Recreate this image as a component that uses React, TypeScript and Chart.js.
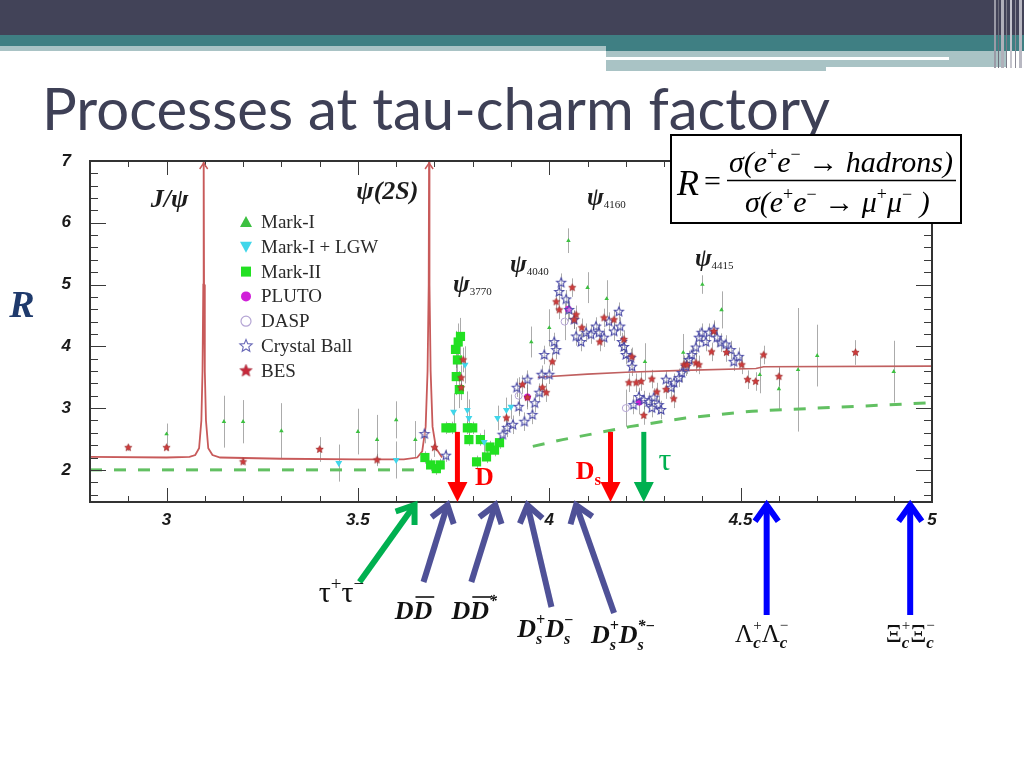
import React, { useEffect, useRef } from 'react';
import { Chart, registerables } from 'chart.js';

Chart.register(...registerables);

// ---------------- data ----------------
const X_TICKS = [3, 3.5, 4, 4.5, 5];
const Y_TICKS = [2, 3, 4, 5, 6, 7];
const X_MIN = 2.8;
const X_MAX = 5.0;
const Y_MIN = 1.48;
const Y_MAX = 7;

const SERIES_NAMES = ['Mark-I', 'Mark-I + LGW', 'Mark-II', 'PLUTO', 'DASP', 'Crystal Ball', 'BES'];

// [E (GeV), R, error]
const MARK_I: number[][] = [
  [3.0, 2.58, 0.17], [3.15, 2.78, 0.42], [3.2, 2.78, 0.35], [3.3, 2.63, 0.45],
  [3.5, 2.62, 0.37], [3.55, 2.49, 0.4], [3.6, 2.81, 0.3], [3.65, 2.49, 0.3],
  [3.953, 4.07, 0.25], [4.0, 4.3, 0.3], [4.05, 5.71, 0.2], [4.1, 4.95, 0.25],
  [4.15, 4.77, 0.3], [4.25, 3.75, 0.3], [4.35, 3.9, 0.3], [4.4, 5.0, 0.15],
  [4.45, 4.59, 0.3], [4.55, 3.54, 0.3], [4.6, 3.31, 0.35], [4.65, 3.62, 1.0],
  [4.7, 3.85, 0.5], [4.9, 3.59, 0.5],
];
const MARK_I_LGW: number[][] = [
  [3.45, 2.11, 0.3], [3.6, 2.16, 0.3], [3.75, 2.94, 0.3], [3.78, 3.7, 0.3],
  [3.786, 2.97, 0.3], [3.79, 2.84, 0.3], [3.83, 2.45, 0.2], [3.865, 2.84, 0.2],
  [3.888, 2.97, 0.2], [3.9, 3.02, 0.2],
];
const MARK_II: number[][] = [
  [3.675, 2.2, 0.1], [3.69, 2.08, 0.1], [3.705, 2.02, 0.1], [3.715, 2.08, 0.1],
  [3.73, 2.68, 0.1], [3.745, 2.68, 0.1], [3.755, 3.95, 0.3], [3.757, 3.51, 0.3],
  [3.76, 3.78, 0.3], [3.762, 4.07, 0.3], [3.765, 3.3, 0.3], [3.768, 4.16, 0.3],
  [3.786, 2.68, 0.1], [3.79, 2.49, 0.1], [3.8, 2.68, 0.1], [3.81, 2.13, 0.1],
  [3.82, 2.49, 0.1], [3.836, 2.21, 0.1], [3.845, 2.37, 0.1], [3.857, 2.32, 0.1],
  [3.87, 2.44, 0.1],
];
const PLUTO: number[][] = [
  [3.943, 3.18, 0.2], [4.05, 4.6, 0.2], [4.235, 3.1, 0.2],
];
const DASP: number[][] = [
  [3.92, 3.2, 0.3], [4.04, 4.4, 0.3], [4.2, 3.0, 0.3],
];
const CRYSTAL_BALL: number[][] = [
  [3.674, 2.58, 0.15], [3.73, 2.23, 0.1], [3.878, 2.57, 0.15], [3.89, 2.68, 0.15],
  [3.905, 2.73, 0.15], [3.915, 3.33, 0.15], [3.92, 3.02, 0.15], [3.935, 2.78, 0.15],
  [3.943, 3.46, 0.15], [3.956, 2.89, 0.15], [3.962, 3.08, 0.15], [3.974, 3.25, 0.15],
  [3.98, 3.54, 0.15], [3.987, 3.86, 0.15], [4.0, 3.54, 0.15], [4.013, 4.07, 0.15],
  [4.018, 3.94, 0.15], [4.026, 4.88, 0.15], [4.031, 5.03, 0.15], [4.044, 4.76, 0.15],
  [4.052, 4.59, 0.15], [4.065, 4.43, 0.15], [4.07, 4.16, 0.15], [4.083, 4.07, 0.15],
  [4.096, 4.22, 0.15], [4.109, 4.19, 0.15], [4.122, 4.32, 0.15], [4.13, 4.22, 0.15],
  [4.143, 4.14, 0.15], [4.156, 4.4, 0.15], [4.169, 4.24, 0.15], [4.182, 4.56, 0.15],
  [4.185, 4.32, 0.15], [4.19, 4.07, 0.15], [4.195, 3.99, 0.15], [4.2, 3.86, 0.15],
  [4.213, 3.81, 0.15], [4.216, 3.67, 0.15], [4.22, 3.05, 0.15], [4.234, 3.18, 0.15],
  [4.247, 3.13, 0.15], [4.26, 3.1, 0.15], [4.268, 3.0, 0.15], [4.273, 3.17, 0.15],
  [4.286, 3.05, 0.15], [4.292, 2.97, 0.15], [4.305, 3.46, 0.15], [4.318, 3.33, 0.15],
  [4.326, 3.41, 0.15], [4.339, 3.49, 0.15], [4.346, 3.57, 0.15], [4.357, 3.67, 0.15],
  [4.365, 3.78, 0.15], [4.372, 3.86, 0.15], [4.383, 3.98, 0.15], [4.391, 4.14, 0.15],
  [4.398, 4.22, 0.15], [4.409, 4.07, 0.15], [4.417, 4.22, 0.15], [4.43, 4.27, 0.15],
  [4.438, 4.14, 0.15], [4.448, 4.06, 0.15], [4.461, 4.03, 0.15], [4.474, 3.94, 0.15],
  [4.482, 3.75, 0.15], [4.495, 3.83, 0.15],
];
const BES: number[][] = [
  [2.9, 2.36, 0.05], [3.0, 2.36, 0.05], [3.2, 2.13, 0.05], [3.4, 2.33, 0.2],
  [3.55, 2.16, 0.1], [3.7, 2.36, 0.15], [3.77, 3.49, 0.2], [3.77, 3.33, 0.2],
  [3.775, 3.78, 0.2], [3.888, 2.84, 0.15], [3.93, 3.38, 0.15], [3.943, 3.17, 0.15],
  [3.982, 3.33, 0.15], [3.992, 3.25, 0.15], [4.008, 3.75, 0.15], [4.018, 4.72, 0.15],
  [4.026, 4.59, 0.15], [4.06, 4.95, 0.15], [4.07, 4.51, 0.15], [4.065, 4.43, 0.15],
  [4.085, 4.3, 0.15], [4.132, 4.07, 0.15], [4.143, 4.46, 0.15], [4.169, 4.43, 0.15],
  [4.195, 4.11, 0.15], [4.216, 3.83, 0.15], [4.208, 3.41, 0.15], [4.227, 3.41, 0.15],
  [4.24, 3.43, 0.15], [4.247, 2.88, 0.15], [4.268, 3.47, 0.15], [4.281, 3.26, 0.15],
  [4.305, 3.3, 0.15], [4.325, 3.15, 0.15], [4.352, 3.7, 0.15], [4.36, 3.7, 0.15],
  [4.383, 3.73, 0.15], [4.391, 3.7, 0.15], [4.424, 3.91, 0.15], [4.43, 4.24, 0.15],
  [4.463, 3.9, 0.15], [4.503, 3.7, 0.15], [4.518, 3.46, 0.15], [4.539, 3.43, 0.15],
  [4.56, 3.86, 0.15], [4.6, 3.51, 0.15], [4.8, 3.9, 0.2],
];

// theory curve (red) and uds continuum (green dashed)
const RED_LOW: number[][] = [
  [2.8, 2.21], [3.0, 2.2], [3.06, 2.21], [3.075, 2.24], [3.085, 2.35], [3.091, 2.8],
  [3.094, 3.6], [3.096, 5.0], [3.097, 7.2], [3.098, 5.0], [3.1, 3.6], [3.103, 2.8],
  [3.109, 2.35], [3.12, 2.24], [3.14, 2.2], [3.3, 2.18], [3.5, 2.17], [3.62, 2.17],
  [3.655, 2.2], [3.668, 2.3], [3.677, 2.7], [3.682, 3.6], [3.685, 5.0], [3.686, 7.2],
  [3.687, 5.0], [3.69, 3.6], [3.695, 2.7], [3.704, 2.35], [3.72, 2.2],
];
const RED_HIGH: number[][] = [
  [3.97, 3.5], [4.1, 3.55], [4.2, 3.58], [4.35, 3.61], [4.54, 3.64], [4.56, 3.67], [5.0, 3.68],
];
const GREEN_LOW: number[][] = [[2.8, 2.0], [3.67, 2.0]];
const GREEN_HIGH: number[][] = [
  [3.957, 2.38], [4.035, 2.49], [4.12, 2.59], [4.21, 2.7], [4.356, 2.84], [4.53, 2.95],
  [4.7, 3.0], [4.877, 3.05], [5.0, 3.09],
];
const PEAKS = [3.097, 3.686];

// resonance labels: [name, subscript, E, R]
const RESONANCES: [string, string, number, number][] = [
  ['J/ψ', '', 3.008, 6.26],
  ['ψ(2S)', '', 3.577, 6.385],
  ['ψ', '3770', 3.799, 4.88],
  ['ψ', '4040', 3.948, 5.2],
  ['ψ', '4160', 4.149, 6.29],
  ['ψ', '4415', 4.431, 5.3],
];

// thresholds marked inside the plot
const INNER_E = [3.76, 4.16, 4.247];
const INNER_LABELS = ['D', 'Ds', 'τ'];
const INNER_TOP_R = 2.615;

// pair production thresholds below the axis
const CHANNEL_E = [3.648, 3.734, 3.859, 3.943, 4.07, 4.568, 4.943];

// ---------------- helpers ----------------
const BI = (s: number) => `bold italic ${s}px "Liberation Serif"`;
const RG = (s: number) => `${s}px "Liberation Serif"`;
const IT = (s: number) => `italic ${s}px "Liberation Serif"`;
const BD = (s: number) => `bold ${s}px "Liberation Serif"`;

type Seg = { t: string; f: string; dy?: number; over?: boolean; stack?: boolean };

function richWidth(ctx: CanvasRenderingContext2D, segs: Seg[]) {
  let w = 0;
  for (let i = 0; i < segs.length; i++) {
    const s = segs[i];
    ctx.font = s.f;
    const a = ctx.measureText(s.t).width;
    if (s.stack && segs[i + 1]) {
      ctx.font = segs[i + 1].f;
      const b = ctx.measureText(segs[i + 1].t).width;
      w += Math.max(a, b);
      i++;
    } else w += a;
  }
  return w;
}

function drawRich(ctx: CanvasRenderingContext2D, segs: Seg[], x: number, y: number, align: 'left' | 'center', color: string) {
  const w = richWidth(ctx, segs);
  let cx = align === 'center' ? x - w / 2 : x;
  ctx.fillStyle = color;
  ctx.strokeStyle = color;
  ctx.textAlign = 'left';
  ctx.textBaseline = 'alphabetic';
  for (let i = 0; i < segs.length; i++) {
    const s = segs[i];
    ctx.font = s.f;
    const a = ctx.measureText(s.t).width;
    ctx.fillText(s.t, cx, y + (s.dy || 0));
    if (s.over) {
      ctx.lineWidth = 1.6;
      ctx.beginPath();
      ctx.moveTo(cx + 2, y - 22);
      ctx.lineTo(cx + a + 2, y - 22);
      ctx.stroke();
    }
    if (s.stack && segs[i + 1]) {
      const n = segs[i + 1];
      ctx.font = n.f;
      const b = ctx.measureText(n.t).width;
      ctx.fillText(n.t, cx, y + (n.dy || 0));
      cx += Math.max(a, b);
      i++;
    } else cx += a;
  }
}

function starCanvas(r: number, fill: string | null, stroke: string | null, lw: number) {
  const size = Math.ceil(r * 2 + lw * 2 + 2);
  const c = document.createElement('canvas');
  c.width = size;
  c.height = size;
  const g = c.getContext('2d')!;
  g.beginPath();
  for (let i = 0; i < 10; i++) {
    const a = -Math.PI / 2 + (i * Math.PI) / 5;
    const rr = i % 2 === 0 ? r : r * 0.45;
    g.lineTo(size / 2 + rr * Math.cos(a), size / 2 + rr * Math.sin(a));
  }
  g.closePath();
  if (fill) {
    g.fillStyle = fill;
    g.fill();
  }
  if (stroke) {
    g.strokeStyle = stroke;
    g.lineWidth = lw;
    g.stroke();
  }
  return c;
}

function arrowLine(ctx: CanvasRenderingContext2D, x1: number, y1: number, x2: number, y2: number, color: string, lw: number) {
  ctx.strokeStyle = color;
  ctx.lineWidth = lw;
  ctx.lineCap = 'butt';
  ctx.lineJoin = 'miter';
  const ang = Math.atan2(y2 - y1, x2 - x1);
  ctx.beginPath();
  ctx.moveTo(x1, y1);
  ctx.lineTo(x2 - Math.cos(ang) * 3, y2 - Math.sin(ang) * 3);
  ctx.stroke();
  const L = 20;
  const spread = 0.62;
  ctx.beginPath();
  ctx.moveTo(x2 - L * Math.cos(ang - spread), y2 - L * Math.sin(ang - spread));
  ctx.lineTo(x2, y2);
  ctx.lineTo(x2 - L * Math.cos(ang + spread), y2 - L * Math.sin(ang + spread));
  ctx.stroke();
}

const toXY = (arr: number[][]) => arr.map((p) => ({ x: p[0], y: p[1] }));

export default function App() {
  const ref = useRef<HTMLCanvasElement | null>(null);

  useEffect(() => {
    if (!ref.current) return;
    const cbStar = starCanvas(4.8, 'rgba(255,255,255,0.35)', '#4848a6', 1.1);
    const besStar = starCanvas(3.8, '#d23c3c', '#9a2a2a', 0.7);
    const cbStarL = starCanvas(6.5, 'rgba(255,255,255,0.6)', '#6a6ab8', 1.1);
    const besStarL = starCanvas(6.5, '#c8283a', '#9a2030', 0.6);

    const pointSet = (label: string, arr: number[][], style: any, radius: number, fill: string, stroke: string, bw: number, rot = 0) => ({
      label,
      data: toXY(arr),
      errs: arr.map((p) => p[2]),
      pointStyle: style,
      pointRadius: radius,
      pointBackgroundColor: fill,
      pointBorderColor: stroke,
      pointBorderWidth: bw,
      pointRotation: rot,
      showLine: false,
      order: 1,
    });
    const lineSet = (arr: number[][], color: string, width: number, dash: number[]) => ({
      data: toXY(arr),
      showLine: true,
      borderColor: color,
      borderWidth: width,
      borderDash: dash,
      pointRadius: 0,
      tension: 0,
      order: 5,
    });

    const overlay = {
      id: 'overlay',
      beforeDraw(chart: any) {
        const ctx: CanvasRenderingContext2D = chart.ctx;
        ctx.save();
        ctx.fillStyle = '#424358';
        ctx.fillRect(0, 0, 1024, 35);
        ctx.fillStyle = '#3f7f83';
        ctx.fillRect(0, 35, 606, 11);
        ctx.fillRect(606, 35, 418, 16);
        ctx.fillStyle = '#a9c3c5';
        ctx.fillRect(0, 46, 606, 5);
        ctx.fillRect(606, 51, 400, 16);
        ctx.fillRect(606, 67, 220, 4);
        ctx.fillStyle = '#ffffff';
        ctx.fillRect(606, 57, 343, 3);
        const stripes = [[994, 2, '#9a9aa6'], [998, 1, '#6e6e7c'], [1001, 3, '#b0b0ba'], [1006, 1, '#7a7a88'], [1010, 2, '#c4c4cc'], [1015, 1, '#8a8a96'], [1019, 3, '#b8b8c2']];
        stripes.forEach(([x, w, c]: any) => {
          ctx.fillStyle = c;
          ctx.fillRect(x, 0, w, 68);
        });
        ctx.font = '58px Lato';
        const title = 'Processes at tau-charm factory';
        const tw = ctx.measureText(title).width;
        ctx.translate(42, 130);
        ctx.scale(788 / tw, 1);
        ctx.fillStyle = '#3e4056';
        ctx.textBaseline = 'alphabetic';
        ctx.fillText(title, 0, 0);
        ctx.restore();

        ctx.save();
        ctx.font = BI(38);
        ctx.fillStyle = '#1f3a6c';
        ctx.textAlign = 'center';
        ctx.textBaseline = 'middle';
        ctx.fillText('R', 22, 307);
        ctx.restore();
      },
      beforeDatasetsDraw(chart: any) {
        const ctx: CanvasRenderingContext2D = chart.ctx;
        const xs = chart.scales.x;
        const ys = chart.scales.y;
        const { left, right, top, bottom } = chart.chartArea;
        ctx.save();
        ctx.beginPath();
        ctx.rect(left, top, right - left, bottom - top);
        ctx.clip();
        ctx.strokeStyle = 'rgba(115,115,115,0.6)';
        ctx.lineWidth = 1;
        chart.data.datasets.forEach((ds: any) => {
          if (!ds.errs) return;
          ds.data.forEach((p: any, i: number) => {
            const e = ds.errs[i];
            const px = Math.round(xs.getPixelForValue(p.x)) + 0.5;
            ctx.beginPath();
            ctx.moveTo(px, ys.getPixelForValue(p.y - e));
            ctx.lineTo(px, ys.getPixelForValue(p.y + e));
            ctx.stroke();
          });
        });
        ctx.restore();
      },
      afterDatasetsDraw(chart: any) {
        const ctx: CanvasRenderingContext2D = chart.ctx;
        const xs = chart.scales.x;
        const ys = chart.scales.y;
        const { left, right, top, bottom } = chart.chartArea;
        ctx.save();
        ctx.strokeStyle = '#3a3a3a';
        ctx.lineWidth = 1;
        for (let k = 28; k <= 50; k++) {
          const px = Math.round(xs.getPixelForValue(k / 10)) + 0.5;
          const L = k % 5 === 0 ? 14 : 6;
          ctx.beginPath();
          ctx.moveTo(px, bottom);
          ctx.lineTo(px, bottom - L);
          ctx.moveTo(px, top);
          ctx.lineTo(px, top + L);
          ctx.stroke();
        }
        for (let k = 8; k <= 35; k++) {
          const v = k / 5;
          if (v < Y_MIN) continue;
          const py = Math.round(ys.getPixelForValue(v)) + 0.5;
          const L = k % 5 === 0 ? 16 : 8;
          ctx.beginPath();
          ctx.moveTo(left, py);
          ctx.lineTo(left + L, py);
          ctx.moveTo(right, py);
          ctx.lineTo(right - L, py);
          ctx.stroke();
        }
        ctx.lineWidth = 2;
        ctx.strokeStyle = '#333';
        ctx.strokeRect(left, top, right - left, bottom - top);

        ctx.strokeStyle = '#c85a5a';
        ctx.lineWidth = 1.5;
        PEAKS.forEach((e) => {
          const px = xs.getPixelForValue(e);
          ctx.beginPath();
          ctx.moveTo(px - 4, top + 8);
          ctx.lineTo(px, top + 2);
          ctx.lineTo(px + 4, top + 8);
          ctx.stroke();
        });

        // legend
        const lx = left + 156;
        const ly = top + 61;
        const sp = 24.8;
        SERIES_NAMES.forEach((name, i) => {
          const y = ly + i * sp;
          const x = lx;
          ctx.save();
          switch (i) {
            case 0:
              ctx.fillStyle = '#3cc040';
              ctx.beginPath();
              ctx.moveTo(x, y - 6);
              ctx.lineTo(x + 6, y + 5);
              ctx.lineTo(x - 6, y + 5);
              ctx.closePath();
              ctx.fill();
              break;
            case 1:
              ctx.fillStyle = '#40d6ea';
              ctx.beginPath();
              ctx.moveTo(x, y + 6);
              ctx.lineTo(x + 6, y - 5);
              ctx.lineTo(x - 6, y - 5);
              ctx.closePath();
              ctx.fill();
              break;
            case 2:
              ctx.fillStyle = '#22e022';
              ctx.fillRect(x - 5, y - 5, 10, 10);
              break;
            case 3:
              ctx.fillStyle = '#d020d8';
              ctx.beginPath();
              ctx.arc(x, y, 5, 0, Math.PI * 2);
              ctx.fill();
              break;
            case 4:
              ctx.strokeStyle = '#b4a4d4';
              ctx.lineWidth = 1.2;
              ctx.beginPath();
              ctx.arc(x, y, 5, 0, Math.PI * 2);
              ctx.stroke();
              break;
            case 5:
              ctx.drawImage(cbStarL, x - cbStarL.width / 2, y - cbStarL.height / 2);
              break;
            case 6:
              ctx.drawImage(besStarL, x - besStarL.width / 2, y - besStarL.height / 2);
              break;
          }
          ctx.restore();
          ctx.font = RG(19);
          ctx.fillStyle = '#2a2a2a';
          ctx.textAlign = 'left';
          ctx.textBaseline = 'middle';
          ctx.fillText(name, x + 15, y + 1);
        });

        // resonance labels
        RESONANCES.forEach(([name, sub, e, r]) => {
          const px = xs.getPixelForValue(e);
          const py = ys.getPixelForValue(r);
          const segs: Seg[] = [{ t: name, f: BI(name.length > 1 ? 26 : 25) }];
          if (sub) segs.push({ t: sub, f: RG(11), dy: 3 });
          drawRich(ctx, segs, px, py, 'center', '#1c1c1c');
        });

        // inner threshold arrows
        const yTop = ys.getPixelForValue(INNER_TOP_R);
        INNER_E.forEach((e, i) => {
          const px = xs.getPixelForValue(e);
          const color = i === 2 ? '#00b050' : '#ff0000';
          ctx.fillStyle = color;
          ctx.fillRect(px - 2.5, yTop, 5, bottom - 19 - yTop);
          ctx.beginPath();
          ctx.moveTo(px - 10, bottom - 20);
          ctx.lineTo(px + 10, bottom - 20);
          ctx.lineTo(px, bottom);
          ctx.closePath();
          ctx.fill();
          const lab = INNER_LABELS[i];
          if (lab === 'D') {
            drawRich(ctx, [{ t: 'D', f: BD(26) }], px + 27, 485, 'center', color);
          } else if (lab === 'Ds') {
            drawRich(ctx, [{ t: 'D', f: BD(26) }, { t: 's', f: BD(17), dy: 6 }], px - 22, 479, 'center', color);
          } else {
            drawRich(ctx, [{ t: 'τ', f: RG(32) }], px + 21, 470, 'center', color);
          }
        });
        ctx.restore();
      },
      afterDraw(chart: any) {
        const ctx: CanvasRenderingContext2D = chart.ctx;
        const xs = chart.scales.x;
        ctx.save();
        const tipY = 505;
        const tails = [[-55, 77], [-24, 77], [-24, 77], [24, 102], [38, 108], [0, 110], [0, 110]];
        const colors = ['#00b050', '#4f5197', '#4f5197', '#4f5197', '#4f5197', '#0000ff', '#0000ff'];
        const labelDx = [-73, -34, -21, 18, 47, -5, 0];
        const labelY = [602, 619, 619, 637, 643, 642, 642];
        const sup = 16;
        const labels: Seg[][] = [
          [{ t: 'τ', f: RG(30) }, { t: '+', f: RG(19), dy: -12 }, { t: 'τ', f: RG(30) }, { t: '−', f: RG(19), dy: -12 }],
          [{ t: 'D', f: BI(26) }, { t: 'D', f: BI(26), over: true }],
          [{ t: 'D', f: BI(26) }, { t: 'D', f: BI(26), over: true }, { t: '*', f: BI(sup), dy: -13 }],
          [
            { t: 'D', f: BI(26) }, { t: '+', f: BI(sup), dy: -12, stack: true }, { t: 's', f: BI(sup), dy: 7 },
            { t: 'D', f: BI(26) }, { t: '−', f: BI(sup), dy: -12, stack: true }, { t: 's', f: BI(sup), dy: 7 },
          ],
          [
            { t: 'D', f: BI(26) }, { t: '+', f: BI(sup), dy: -12, stack: true }, { t: 's', f: BI(sup), dy: 7 },
            { t: 'D', f: BI(26) }, { t: '*−', f: BI(sup), dy: -12, stack: true }, { t: 's', f: BI(sup), dy: 7 },
          ],
          [
            { t: 'Λ', f: RG(25) }, { t: '+', f: RG(15), dy: -12, stack: true }, { t: 'c', f: BI(17), dy: 6 },
            { t: 'Λ', f: RG(25) }, { t: '−', f: RG(15), dy: -12, stack: true }, { t: 'c', f: BI(17), dy: 6 },
          ],
          [
            { t: 'Ξ', f: RG(25) }, { t: '+', f: RG(15), dy: -12, stack: true }, { t: 'c', f: BI(17), dy: 6 },
            { t: 'Ξ', f: RG(25) }, { t: '−', f: RG(15), dy: -12, stack: true }, { t: 'c', f: BI(17), dy: 6 },
          ],
        ];
        CHANNEL_E.forEach((e, i) => {
          const px = xs.getPixelForValue(e);
          arrowLine(ctx, px + tails[i][0], tipY + tails[i][1], px, tipY, colors[i], 6);
          drawRich(ctx, labels[i], px + labelDx[i], labelY[i], 'center', '#111');
        });

        // formula box
        ctx.fillStyle = '#fff';
        ctx.fillRect(671, 135, 290, 88);
        ctx.strokeStyle = '#000';
        ctx.lineWidth = 2;
        ctx.strokeRect(671, 135, 290, 88);
        drawRich(ctx, [{ t: 'R', f: IT(36) }], 677, 195, 'left', '#000');
        drawRich(ctx, [{ t: '=', f: RG(30) }], 704, 191, 'left', '#000');
        ctx.lineWidth = 1.5;
        ctx.beginPath();
        ctx.moveTo(727, 180.5);
        ctx.lineTo(956, 180.5);
        ctx.stroke();
        drawRich(ctx, [
          { t: 'σ(e', f: IT(30) }, { t: '+', f: RG(18), dy: -12 }, { t: 'e', f: IT(30) }, { t: '−', f: RG(18), dy: -12 },
          { t: ' → ', f: RG(30) }, { t: 'hadrons)', f: IT(30) },
        ], 729, 172, 'left', '#000');
        drawRich(ctx, [
          { t: 'σ(e', f: IT(30) }, { t: '+', f: RG(18), dy: -12 }, { t: 'e', f: IT(30) }, { t: '−', f: RG(18), dy: -12 },
          { t: ' → ', f: RG(30) }, { t: 'μ', f: IT(30) }, { t: '+', f: RG(18), dy: -12 }, { t: 'μ', f: IT(30) },
          { t: '−', f: RG(18), dy: -12 }, { t: ' )', f: IT(30) },
        ], 745, 212, 'left', '#000');
        ctx.restore();
      },
    };

    const chart = new Chart(ref.current, {
      type: 'scatter',
      data: {
        datasets: [
          pointSet(SERIES_NAMES[6], BES, besStar, 4, '#d23c3c', '#9a2a2a', 0),
          pointSet(SERIES_NAMES[5], CRYSTAL_BALL, cbStar, 5, '#fff', '#4848a6', 0),
          pointSet(SERIES_NAMES[4], DASP, 'circle', 3.5, 'rgba(0,0,0,0)', '#b4a4d4', 1),
          pointSet(SERIES_NAMES[3], PLUTO, 'circle', 3.5, '#d020d8', '#d020d8', 0),
          pointSet(SERIES_NAMES[1], MARK_I_LGW, 'triangle', 4, '#40d6ea', '#40d6ea', 0, 180),
          pointSet(SERIES_NAMES[0], MARK_I, 'triangle', 2.6, '#3cc040', '#3cc040', 0),
          pointSet(SERIES_NAMES[2], MARK_II, 'rect', 6.5, '#22e022', '#22e022', 0),
          lineSet(RED_LOW, '#c85a5a', 1.8, []),
          lineSet(RED_HIGH, '#c06060', 1.6, []),
          lineSet(GREEN_LOW, '#62c062', 3, [12, 12]),
          lineSet(GREEN_HIGH, '#62c062', 3, [12, 12]),
        ] as any,
      },
      options: {
        responsive: false,
        animation: false,
        devicePixelRatio: 1,
        events: [],
        layout: { padding: { left: 40, right: 92, top: 161, bottom: 226 } },
        plugins: { legend: { display: false }, tooltip: { enabled: false } },
        scales: {
          x: {
            type: 'linear',
            min: X_MIN,
            max: X_MAX,
            grid: { display: false, drawTicks: false },
            border: { display: false },
            ticks: {
              padding: 8,
              color: '#1a1a1a',
              font: { family: '"Liberation Sans"', weight: 'bold', style: 'italic', size: 17 },
              callback: (v: any) => String(v),
            },
            afterBuildTicks: (s: any) => {
              s.ticks = X_TICKS.map((v) => ({ value: v }));
            },
            afterFit: (s: any) => {
              s.height = 40;
              s.paddingLeft = 0;
              s.paddingRight = 0;
            },
          },
          y: {
            type: 'linear',
            min: Y_MIN,
            max: Y_MAX,
            grid: { display: false, drawTicks: false },
            border: { display: false },
            ticks: {
              padding: 19,
              color: '#1a1a1a',
              font: { family: '"Liberation Sans"', weight: 'bold', style: 'italic', size: 17 },
              callback: (v: any) => String(v),
            },
            afterBuildTicks: (s: any) => {
              s.ticks = Y_TICKS.map((v) => ({ value: v }));
            },
            afterFit: (s: any) => {
              s.width = 50;
              s.paddingTop = 0;
              s.paddingBottom = 0;
            },
          },
        },
      } as any,
      plugins: [overlay],
    });
    return () => chart.destroy();
  }, []);

  return (
    <div style={{ position: 'absolute', left: 0, top: 0, width: 1024, height: 768, background: '#fff' }}>
      <canvas ref={ref} width={1024} height={768} style={{ width: 1024, height: 768, display: 'block' }} />
    </div>
  );
}
